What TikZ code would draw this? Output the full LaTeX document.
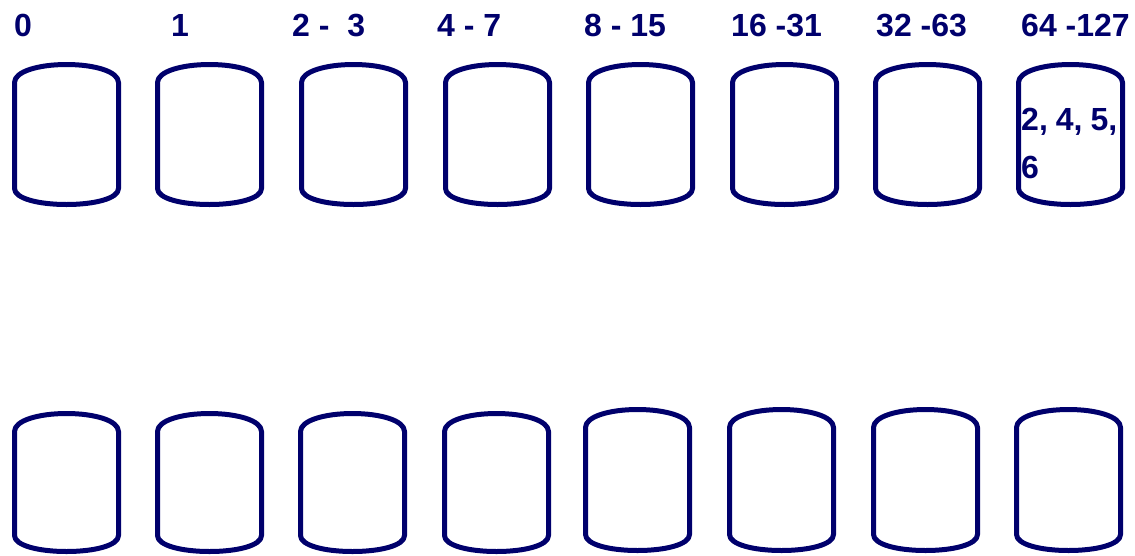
\documentclass[tikz,border=0pt]{standalone}
\usepackage{fontspec}
\setmainfont{Liberation Sans}
\definecolor{navy}{RGB}{0,0,108}
\newcommand\drawbarrel[3]{%
  \pgfmathsetmacro\bL{#1+2.5}\pgfmathsetmacro\bR{#1+106.5}\pgfmathsetmacro\bM{#1+54.5}%
  \pgfmathsetmacro\bT{#2+2.5}\pgfmathsetmacro\bB{#3-2.5}%
  \draw[barrel] (\bL,\bT+18) -- (\bL,\bB-16)
    .. controls (\bL,\bB-6) and (\bL+24,\bB) .. (\bM,\bB)
    .. controls (\bR-24,\bB) and (\bR,\bB-6) .. (\bR,\bB-16)
    -- (\bR,\bT+18)
    .. controls (\bR,\bT+7) and (\bR-24,\bT) .. (\bM,\bT)
    .. controls (\bL+24,\bT) and (\bL,\bT+7) .. cycle;}
\tikzset{
  barrel/.style={draw=navy, line width=5pt, line join=round},
  lbl/.style={anchor=base west, inner sep=0pt, text=navy, font=\fontsize{32}{38}\selectfont\bfseries},
}
\begin{document}
\begin{tikzpicture}[x=1pt,y=-1pt]
\useasboundingbox (0,0) rectangle (1135,555);
% top row
\foreach \l in {12,155,299,443,586,730,873,1016} {\drawbarrel{\l}{62}{207}}
% bottom row
\foreach \l in {12,155,298,442} {\drawbarrel{\l}{411}{554}}
\foreach \l in {583,727,871,1014} {\drawbarrel{\l}{407}{553}}
% labels
\node[lbl] (l0) at (14,36) {0};
\node[lbl] (l1) at (171,36) {1};
\node[lbl] (l2) at (292,36) {2 -~ 3};
\node[lbl] (l3) at (437,36) {4 - 7};
\node[lbl] (l4) at (584,36) {8 - 15};
\node[lbl] (l5) at (731,36) {16 -31};
\node[lbl] (l6) at (876,36) {32 -63};
\node[lbl] (l7) at (1021,36) {64 -127};
\node[lbl] (c8a) at (1021,130) {\makebox[96pt][s]{2, 4, 5,}};
\node[lbl] (c8b) at (1021,178) {6};
\end{tikzpicture}
\end{document}
